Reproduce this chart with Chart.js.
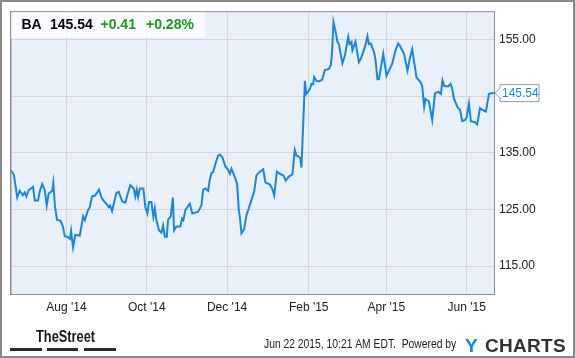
<!DOCTYPE html>
<html lang="en">
<head>
<meta charset="UTF-8">
<title>BA</title>
<script src="https://cdn.jsdelivr.net/npm/chart.js"></script>
<style>
  body { margin: 0; background: #fff; }
  canvas { display: block; }
</style>
</head>
<body>
<canvas id="grafico" width="575" height="358"></canvas>
<script>
// days since 2014-06-01
var days = [18.1, 21.1, 23.6, 25.5, 27.8, 29.3, 30.5, 32.3, 35.6, 36.9, 39.4, 40.9, 42.6, 44.5, 46.0, 47.5, 50.2, 51.0, 52.3, 53.8,
  56.6, 58.4, 59.7, 62.2, 63.7, 64.5, 66.0, 67.7, 71.1, 72.3, 73.6, 74.9, 77.4, 78.7, 80.4, 82.9, 85.7, 88.0, 91.3, 93.1,
  94.1, 95.6, 98.9, 100.7, 103.4, 105.7, 107.2, 109.5, 112.1, 113.3, 114.4, 115.4, 116.7, 119.4, 120.9, 122.4, 123.7, 125.5, 127.0, 128.1,
  129.3, 131.3, 133.1, 134.4, 135.7, 137.2, 138.2, 140.2, 141.8, 142.7, 144.5, 147.5, 148.8, 149.8, 151.3, 154.7, 156.6, 161.0, 163.5, 164.8,
  166.5, 168.6, 169.9, 171.1, 172.4, 174.4, 176.2, 177.5, 179.4, 181.7, 183.8, 185.1, 186.3, 188.9, 190.6, 191.9, 192.7, 193.9, 195.9, 197.7,
  199.5, 201.0, 203.5, 205.3, 207.1, 210.4, 212.1, 215.5, 217.2, 218.8, 220.8, 223.1, 225.8, 227.6, 229.9, 232.6, 234.4, 235.7, 237.0, 238.5,
  239.5, 242.1, 243.1, 244.6, 246.1, 247.1, 248.4, 249.1, 250.9, 252.7, 255.2, 257.3, 260.3, 261.8, 262.8, 263.8, 265.3, 266.8, 267.9, 270.6,
  272.5, 275.0, 276.0, 277.5, 278.2, 280.5, 283.1, 284.6, 288.1, 289.6, 290.7, 292.2, 294.7, 295.7, 297.2, 298.3, 299.8, 301.6, 304.1, 305.9,
  308.4, 310.9, 313.0, 314.3, 316.0, 317.5, 320.0, 321.9, 323.6, 326.9, 330.2, 331.2, 332.7, 333.7, 336.3, 338.8, 340.9, 343.4, 345.4, 346.6,
  347.9, 351.0, 352.7, 354.0, 355.3, 358.1, 359.9, 361.6, 363.7, 364.9, 366.7, 368.2, 371.3, 373.0, 375.1, 376.8, 379.6, 381.9, 383.9, 386.0];

var precos = [132.1, 131.1, 127.1, 128.3, 127.5, 128.0, 127.3, 128.4, 129.0, 126.6, 126.6, 128.4, 129.5, 128.4, 125.7, 127.8, 128.3, 129.7, 125.4, 123.2,
  123.0, 121.9, 120.3, 120.1, 119.8, 121.2, 118.3, 120.5, 120.4, 122.0, 123.8, 123.1, 124.9, 125.4, 127.3, 127.5, 128.5, 126.9, 126.0, 125.4,
  125.7, 124.7, 127.9, 128.1, 126.4, 126.2, 127.5, 129.3, 128.7, 127.3, 128.5, 127.2, 128.7, 128.7, 125.4, 124.3, 126.3, 126.3, 123.7, 125.2,
  123.1, 121.3, 120.9, 122.2, 120.2, 120.2, 123.2, 123.8, 127.1, 121.3, 122.0, 122.0, 123.4, 123.1, 124.9, 126.0, 124.3, 124.6, 125.7, 128.5,
  128.7, 128.3, 130.3, 131.4, 131.6, 133.3, 134.5, 134.7, 134.2, 132.6, 132.0, 131.3, 132.2, 130.7, 129.5, 124.9, 123.7, 120.8, 121.5, 124.0,
  125.2, 126.3, 128.1, 131.0, 131.5, 132.1, 129.8, 129.4, 128.7, 127.5, 131.7, 131.3, 131.0, 130.1, 130.8, 131.2, 135.5, 134.5, 134.4, 134.1,
  132.4, 147.7, 145.4, 145.8, 146.4, 147.2, 147.1, 148.4, 147.7, 147.6, 147.9, 149.6, 149.8, 150.5, 153.0, 158.1, 156.5, 154.6, 154.2, 150.8,
  152.2, 155.5, 154.2, 154.6, 153.1, 154.6, 151.0, 151.6, 154.0, 155.6, 154.2, 154.3, 152.7, 151.5, 148.0, 148.0, 150.0, 152.5, 148.6, 149.5,
  150.7, 153.1, 154.3, 153.9, 153.1, 152.4, 149.5, 151.8, 153.3, 148.3, 147.4, 146.8, 143.1, 144.5, 144.1, 140.8, 145.5, 145.8, 145.4, 147.8,
  146.8, 146.7, 147.2, 146.3, 144.6, 143.0, 142.6, 140.6, 140.8, 141.2, 143.7, 140.6, 140.4, 140.0, 142.9, 142.6, 142.3, 145.4, 145.5, 145.54];

var diasTick = [61, 122, 183, 245, 304, 365];
var rotulosX = ["Aug '14", "Oct '14", "Dec '14", "Feb '15", "Apr '15", "Jun '15"];
var ticksY = [115, 125, 135, 145, 155];

var ticker = 'BA';
var ultimo = '145.54';
var variacao = '+0.41';
var variacaoPct = '+0.28%';

var fonte = '"Liberation Sans", Arial, sans-serif';
Chart.defaults.font.family = fonte;

var azul = '#1a86e2';

var desenhos = {
  id: 'desenhos',
  beforeDraw: function (chart) {
    var ctx = chart.ctx, a = chart.chartArea;
    ctx.save();
    ctx.fillStyle = '#fff';
    ctx.fillRect(0, 0, chart.width, chart.height);
    ctx.fillStyle = '#eaf0fa';
    ctx.fillRect(a.left, a.top, a.right - a.left, a.bottom - a.top);
    ctx.restore();
  },
  afterDraw: function (chart) {
    var ctx = chart.ctx, a = chart.chartArea;
    ctx.save();

    // borda do grafico
    ctx.strokeStyle = '#8c8c8c';
    ctx.lineWidth = 1;
    ctx.strokeRect(a.left + 0.5, a.top + 0.5, a.right - a.left - 1, a.bottom - a.top - 1);
    ctx.fillStyle = '#8c8c8c';
    ctx.fillRect(a.left, a.top, 1.5, a.bottom - a.top);

    // caixa do cabecalho
    ctx.fillStyle = 'rgba(255,255,255,0.72)';
    ctx.fillRect(a.left + 1, a.top + 1, 194, 26);
    ctx.font = 'bold 14px ' + fonte;
    ctx.textBaseline = 'alphabetic';
    ctx.fillStyle = '#000';
    ctx.fillText(ticker, 21.5, 28.5);
    ctx.fillText(ultimo, 50, 28.5);
    ctx.fillStyle = '#1f9a1f';
    ctx.fillText(variacao, 100.5, 28.5);
    ctx.fillText(variacaoPct, 146, 28.5);

    // rotulo do preco atual
    var y = chart.scales.y.getPixelForValue(precos[precos.length - 1]);
    var x0 = 495, x1 = 500, x2 = 539;
    ctx.beginPath();
    ctx.moveTo(x0, y);
    ctx.lineTo(x1, y - 5);
    ctx.lineTo(x1, y - 8.5);
    ctx.lineTo(x2, y - 8.5);
    ctx.lineTo(x2, y + 8.5);
    ctx.lineTo(x1, y + 8.5);
    ctx.lineTo(x1, y + 5);
    ctx.closePath();
    ctx.fillStyle = '#fff';
    ctx.fill();
    ctx.strokeStyle = '#999';
    ctx.lineWidth = 1;
    ctx.stroke();
    ctx.font = '12px ' + fonte;
    ctx.fillStyle = azul;
    ctx.textBaseline = 'middle';
    ctx.fillText(ultimo, 502, y + 0.5);

    // rodape
    ctx.textBaseline = 'alphabetic';
    ctx.fillStyle = '#1a1a1a';
    ctx.save();
    ctx.translate(36, 342);
    ctx.scale(0.8, 1);
    ctx.font = 'bold 16px ' + fonte;
    ctx.fillText('TheStreet', 0, 0);
    ctx.restore();
    ctx.fillStyle = '#2a2a2a';
    ctx.fillRect(10, 348, 32, 3);
    ctx.fillRect(47, 348, 31, 3);
    ctx.fillRect(84, 348, 32, 3);

    ctx.fillStyle = '#222';
    ctx.save();
    ctx.translate(264, 348);
    ctx.scale(0.86, 1);
    ctx.font = '12px ' + fonte;
    ctx.fillText('Jun 22 2015, 10:21 AM EDT.  Powered by', 0, 0);
    ctx.restore();

    ctx.font = 'bold 19px ' + fonte;
    ctx.fillStyle = azul;
    ctx.fillText('Y', 465, 352);
    ctx.fillStyle = '#333';
    var xs = 485;
    'CHARTS'.split('').forEach(function (c) {
      ctx.fillText(c, xs, 352);
      xs += ctx.measureText(c).width + 0.3;
    });

    // borda externa
    ctx.strokeStyle = '#8a8a8a';
    ctx.lineWidth = 2;
    ctx.strokeRect(1, 1, chart.width - 2, chart.height - 2);
    ctx.restore();
  }
};

var pontos = days.map(function (d, i) { return { x: d, y: precos[i] }; });

new Chart(document.getElementById('grafico'), {
  type: 'line',
  data: {
    datasets: [{
      data: pontos,
      borderColor: azul,
      borderWidth: 2,
      pointRadius: 0,
      tension: 0,
      fill: false
    }]
  },
  options: {
    responsive: false,
    animation: false,
    devicePixelRatio: 1,
    layout: { padding: { left: 10, top: 10, right: 0, bottom: 0 } },
    plugins: { legend: { display: false }, tooltip: { enabled: false } },
    scales: {
      x: {
        type: 'linear',
        min: 18.1,
        max: 386.5,
        grid: { color: '#d6d6d6', drawTicks: false },
        border: { display: false },
        afterBuildTicks: function (scale) {
          scale.ticks = diasTick.map(function (v) { return { value: v }; });
        },
        afterFit: function (scale) { scale.height = 63; },
        ticks: {
          autoSkip: false,
          maxRotation: 0,
          padding: 5,
          color: '#222',
          font: { size: 12 },
          callback: function (v, i) { return rotulosX[i]; }
        }
      },
      y: {
        position: 'right',
        min: 109.9,
        max: 160,
        grid: { color: '#d6d6d6', drawTicks: false },
        border: { display: false },
        afterBuildTicks: function (scale) {
          scale.ticks = ticksY.map(function (v) { return { value: v }; });
        },
        afterFit: function (scale) { scale.width = 80; },
        ticks: {
          padding: 4,
          color: '#222',
          font: { size: 12 },
          callback: function (v) { return v === 145 ? '' : v.toFixed(2); }
        }
      }
    }
  },
  plugins: [desenhos]
});
</script>
</body>
</html>
